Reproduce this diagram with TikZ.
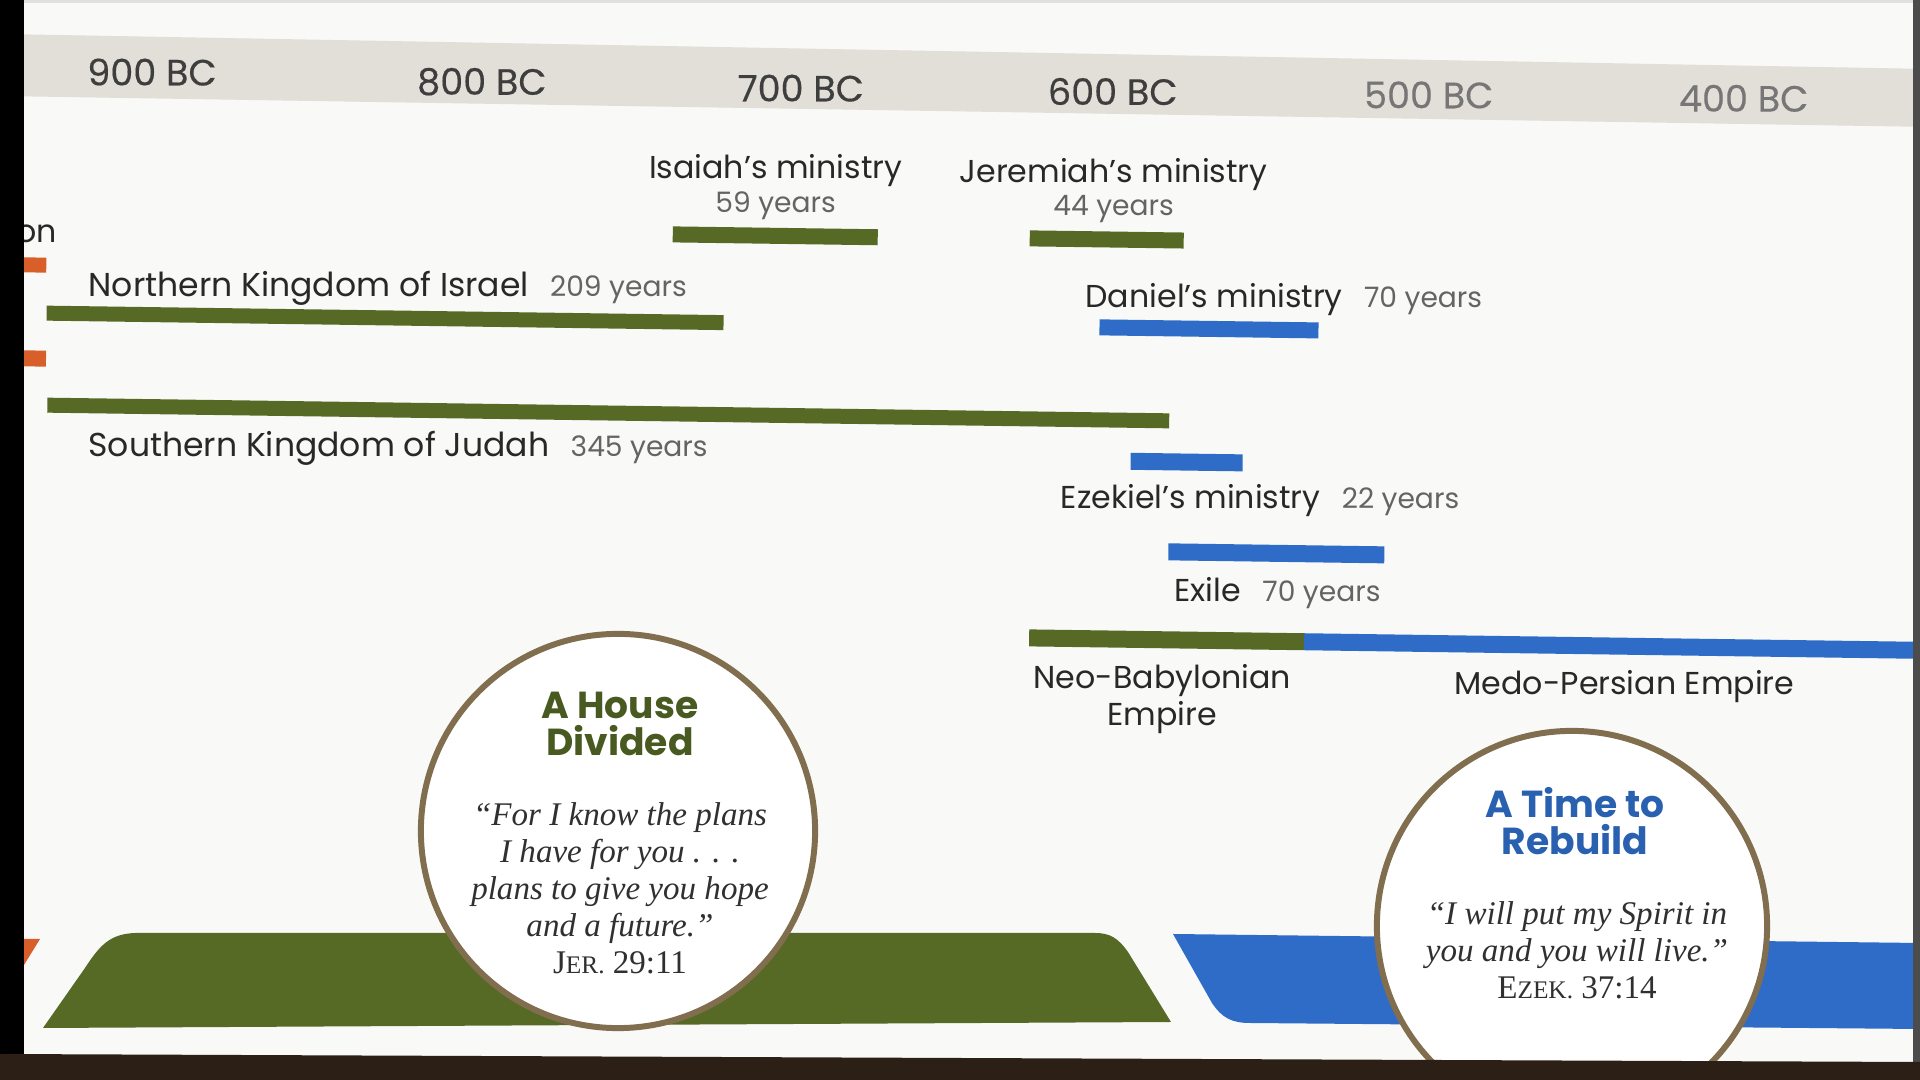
\documentclass[tikz,border=0pt]{standalone}
\usepackage{fontspec}
\newfontfamily\sansfnt{Poppins}
\newfontfamily\erafnt{Poppins}[FakeBold=0.3]
\newfontfamily\versefnt{Liberation Serif}
\usetikzlibrary{positioning}

\definecolor{paper}{RGB}{249,249,248}
\definecolor{bandgrey}{RGB}{226,222,216}
\definecolor{kgreen}{RGB}{86,106,38}
\definecolor{tgreen}{RGB}{72,90,32}
\definecolor{kblue}{RGB}{46,108,200}
\definecolor{tblue}{RGB}{42,96,176}
\definecolor{korange}{RGB}{216,94,42}
\definecolor{ringbrown}{RGB}{128,110,78}
\definecolor{inkdark}{RGB}{40,40,40}
\definecolor{inkgrey}{RGB}{100,100,100}
\definecolor{eragrey}{RGB}{62,62,62}
\definecolor{eralight}{RGB}{118,118,118}
\definecolor{versegrey}{RGB}{48,48,48}
\definecolor{wood}{RGB}{44,32,22}

\newcommand{\scref}[2]{#1{\fontsize{7.2}{8}\selectfont #2}}

\tikzset{
  lbl/.style={font={\sansfnt\fontsize{9}{10.5}\selectfont}, text=inkdark, inner sep=0pt},
  biglbl/.style={lbl, font={\sansfnt\fontsize{9.4}{11}\selectfont}},
  yrs/.style={font={\sansfnt\fontsize{8}{10}\selectfont}, text=inkgrey, inner sep=0pt},
  era/.style={font={\erafnt\fontsize{10.4}{12}\selectfont}, text=eragrey, inner sep=0pt},
  ttl/.style={font={\sansfnt\bfseries\fontsize{10.7}{10.5}\selectfont}, align=center, inner sep=0pt},
  verse/.style={font={\versefnt\itshape\fontsize{9.4}{10.5}\selectfont}, text=versegrey, align=center, inner sep=0pt},
  medal/.style={circle, draw=ringbrown, line width=1.7pt, fill=white, inner sep=0pt}
}

\begin{document}
\begin{tikzpicture}[x=0.01cm, y=-0.01cm]
  \useasboundingbox (0,0) rectangle (1920,1080);
  \fill[paper] (0,0) rectangle (1920,1080);

  % the printed sheet lies a little askew in the photo
  \begin{scope}[rotate=-0.8]
    \fill[bandgrey] (10,34) -- (1916,42) -- (1916,100) -- (10,96) -- cycle;
    \node[era] (bc900) at (153,70) {900 BC};
    \node[era] (bc800) at (483,75) {800 BC};
    \node[era] (bc700) at (802,77) {700 BC};
    \node[era] (bc600) at (1114,76) {600 BC};
    \node[era, text=eralight] (bc500) at (1430,75) {500 BC};
    \node[era, text=eralight] (bc400) at (1745,74) {400 BC};

    % prophets above the kingdoms
    \node[lbl] (isa) at (778,160) {Isaiah’s ministry};
    \node[yrs, below=0.03cm of isa] (isay) {59 years};
    \fill[kgreen] (676,217) rectangle (881,233);

    \node[lbl] (jer) at (1116,159) {Jeremiah’s ministry};
    \node[yrs, below=0.03cm of jer] (jery) {44 years};
    \fill[kgreen] (1033,216) rectangle (1187,232);

    \node[lbl, anchor=east] (prev) at (61,233) {on};
    \fill[korange] (18,257) rectangle (50,272);
    \fill[korange] (18,350) rectangle (51,366);

    % the two kingdoms
    \node[biglbl, anchor=west] (north) at (92,287) {Northern Kingdom of Israel};
    \node[yrs, right=0.2cm of north.base east, anchor=base west] (northy) {209 years};
    \fill[kgreen] (51,305) rectangle (728,320);

    \fill[kgreen] (53,397) rectangle (1175,412);
    \node[biglbl, anchor=west] (south) at (94,447) {Southern Kingdom of Judah};
    \node[yrs, right=0.2cm of south.base east, anchor=base west] (southy) {345 years};

    % exile period
    \node[lbl, anchor=west] (dan) at (1089,284) {Daniel’s ministry};
    \node[yrs, right=0.2cm of dan.base east, anchor=base west] (dany) {70 years};
    \fill[kblue] (1104,304) rectangle (1323,320);

    \fill[kblue] (1137,437) rectangle (1249,454);
    \node[lbl, anchor=west] (eze) at (1067,486) {Ezekiel’s ministry};
    \node[yrs, right=0.2cm of eze.base east, anchor=base west] (ezey) {22 years};

    \fill[kblue] (1176,527) rectangle (1392,544);
    \node[lbl, anchor=west] (exile) at (1182,573) {Exile};
    \node[yrs, right=0.2cm of exile.base east, anchor=base west] (exiley) {70 years};

    % empires
    \fill[kgreen] (1038,615) rectangle (1313,632);
    \fill[kblue] (1313,615) rectangle (1940,632);
    \node[lbl, align=center, font={\sansfnt\fontsize{9}{10.5}\selectfont}] (babylon) at (1172,683) {Neo-Babylonian\\Empire};
    \node[lbl] (persia) at (1634,664) {Medo-Persian Empire};
  \end{scope}

  % bottom bands
  \fill[korange] (24,939) -- (40,939) -- (24,965) -- cycle;
  \fill[kgreen] (43,1028) -- (85,968) .. controls (100,945) and (110,934) .. (135,933)
    -- (1095,933) .. controls (1110,933) and (1118,938) .. (1128,952) -- (1171,1022) -- cycle;
  \fill[kblue] (1173,934) -- (1920,943) -- (1920,1029) -- (1250,1023)
    .. controls (1232,1023) and (1222,1018) .. (1212,1003) -- cycle;

  % first medallion
  \node[medal, minimum size=3.94cm] (house) at (618,831) {};
  \node[ttl, text=tgreen] (houset) at (620,724) {A House\\Divided};
  \node[verse] (housev) at (620,888) {“For I know the plans\\I have for you . . .\\plans to give you hope\\and a future.”\\{\upshape\scref{J}{ER.} 29:11}};

  % second medallion
  \node[medal, minimum size=3.9cm] (rebuild) at (1572,926) {};
  \node[ttl, text=tblue] (rebuildt) at (1575,821) {A Time to\\Rebuild};
  \node[verse] (rebuildv) at (1577,950) {“I will put my Spirit in\\you and you will live.”\\{\upshape\scref{E}{ZEK.} 37:14}};

  % photo edges
  \fill[black!12] (0,0) rectangle (1920,3);
  \fill[black] (0,0) rectangle (24,1080);
  \fill[black!70] (1913,0) rectangle (1920,1080);
  \fill[wood] (0,1054) -- (1920,1062) -- (1920,1080) -- (0,1080) -- cycle;
\end{tikzpicture}
\end{document}
